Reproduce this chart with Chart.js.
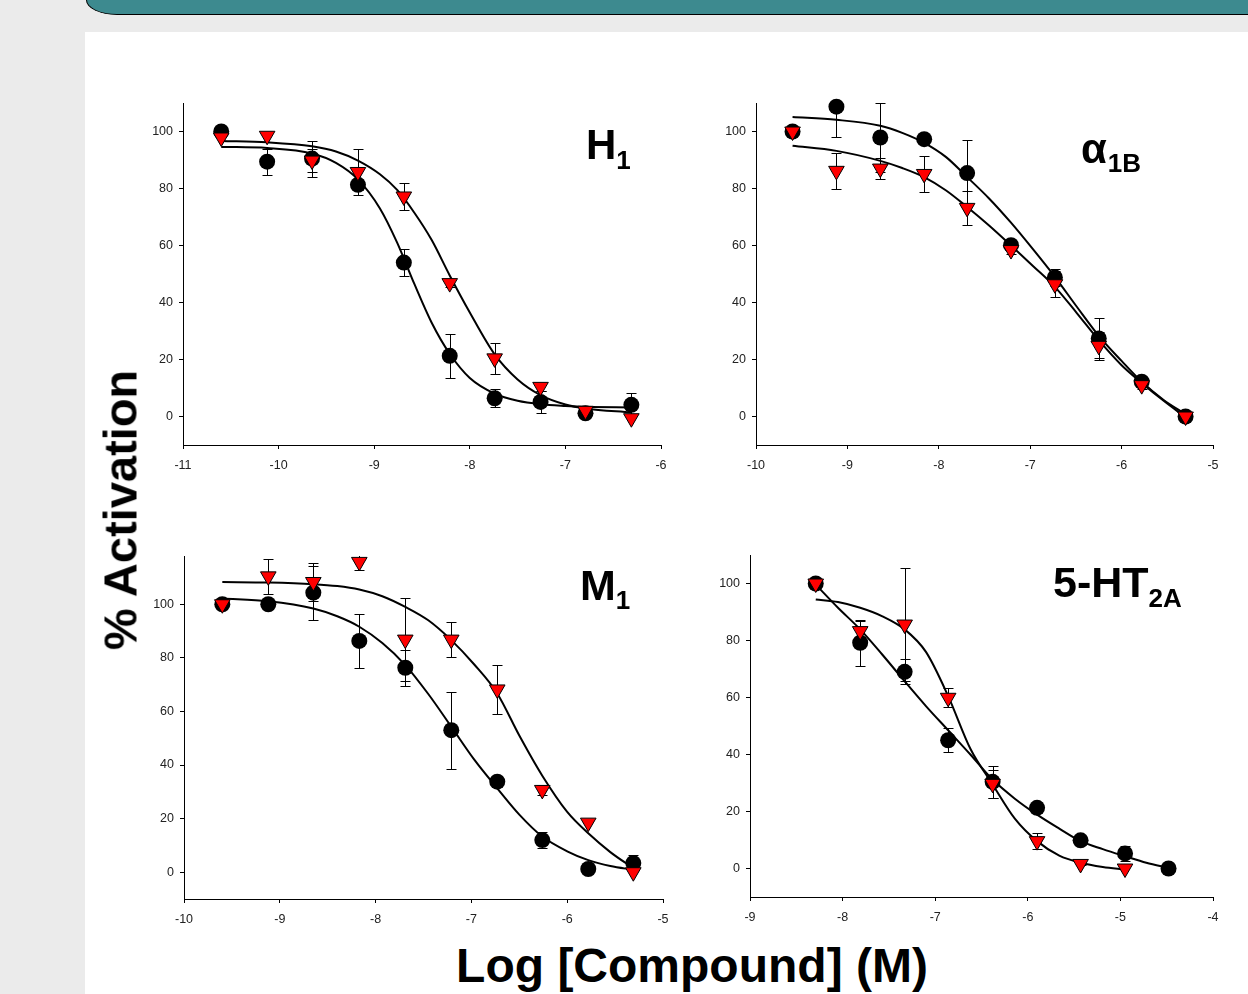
<!DOCTYPE html>
<html>
<head>
<meta charset="utf-8">
<script src="https://cdn.jsdelivr.net/npm/chart.js@4.4.0/dist/chart.umd.min.js"></script>
<style>
body { margin:0; width:1248px; height:994px; background:#ebebeb; position:relative; overflow:hidden; font-family:'Liberation Sans', Arial, sans-serif; }
#header { position:absolute; left:86px; top:-20px; width:1200px; height:34px; background:#3d8a8f; border-left:1.5px solid #000; border-bottom:1.5px solid #000; border-bottom-left-radius:31px 15px; }
#sheet { position:absolute; left:85px; top:32px; right:0; bottom:0; background:#fff; }
canvas { position:absolute; }
.t { position:absolute; font-weight:bold; line-height:1; color:#000; white-space:nowrap; }
.t span { position:relative; }
</style>
</head>
<body>
<div id="header"></div>
<div id="sheet"></div>
<canvas id="cH1"></canvas>
<canvas id="cA1B"></canvas>
<canvas id="cM1"></canvas>
<canvas id="cHT2A"></canvas>

<div class="t" style="left:586px;top:124.4px;font-size:42px">H<span style="font-size:26px;top:10px">1</span></div>
<div class="t" style="left:1081px;top:128.4px;font-size:42px">α<span style="font-size:26px;top:9px;margin-left:1px">1B</span></div>
<div class="t" style="left:580px;top:563.6px;font-size:43px">M<span style="font-size:26px;top:9px">1</span></div>
<div class="t" style="left:1053px;top:560.6px;font-size:43px">5-HT<span style="font-size:26px;top:10px">2A</span></div>

<div class="t" style="left:120px;top:510px;font-size:47px;transform:translate(-50%,-50%) rotate(-90deg)">% Activation</div>
<div class="t" style="left:692px;top:942.4px;font-size:48px;transform:translateX(-50%)">Log [Compound] (M)</div>

<script>
// ---- H1 ----
var h1Dose = [-10.60, -10.12, -9.65, -9.17, -8.69, -8.21, -7.74, -7.26, -6.79, -6.31];
var h1Black = [100, 89.4, 90.5, 81.3, 54.0, 21.3, 6.4, 5.1, 1.1, 4.1];
var h1BlackSem = [0, 4.6, 6.3, 2, 4.6, 7.8, 3.2, 3.7, 1, 4.1];
var h1Red = [97.9, 98.5, 89.8, 85.8, 77.2, 46.8, 20.4, 10.4, 2.0, -0.6];
var h1RedSem = [0, 0, 4, 8, 4.6, 1.5, 5.5, 1.5, 1, 0];
var h1FitDose = [-10.6, -10.12, -9.65, -9.4, -9.17, -8.94, -8.76, -8.58, -8.4, -8.21, -8.0, -7.74, -7.5, -7.26, -7.0, -6.79, -6.31];
var h1FitBlack = [94.6, 94.2, 92.3, 89.0, 83.2, 73.0, 61.0, 46.5, 33.0, 22.0, 13.5, 8.0, 5.5, 4.3, 3.7, 3.4, 3.2];
var h1FitRed = [96.7, 96.2, 94.8, 93.0, 89.8, 85.0, 79.5, 71.5, 62.0, 49.5, 36.5, 21.8, 13.0, 7.5, 4.2, 2.8, 1.4];
var h1XTicks = [-11, -10, -9, -8, -7, -6];

// ---- alpha1B ----
var a1bDose = [-9.60, -9.12, -8.64, -8.16, -7.69, -7.21, -6.73, -6.25, -5.78, -5.30];
var a1bBlack = [100, 108.7, 97.9, 97.3, 85.4, 60.1, 48.8, 27.4, 12.2, 0];
var a1bBlackSem = [0, 10.8, 12, 0, 11.6, 1.5, 3, 7, 1.5, 1];
var a1bRed = [100, 86.2, 87, 85.1, 73.2, 58.4, 46.4, 24.8, 11, 0];
var a1bRedSem = [0, 6.2, 3.8, 6.4, 6, 1.5, 4.6, 5, 1.5, 0];
var a1bFitDose = [-9.6, -9.12, -8.64, -8.4, -8.16, -7.92, -7.69, -7.45, -7.21, -6.97, -6.73, -6.49, -6.25, -6.0, -5.78, -5.54, -5.3];
var a1bFitBlack = [105.1, 104.1, 102.0, 99.5, 96.0, 91.0, 84.0, 76.5, 68.0, 58.7, 49.0, 38.5, 28.3, 19.5, 12.2, 5.8, 0.8];
var a1bFitRed = [95.0, 93.2, 89.7, 87.2, 84.0, 79.3, 73.5, 67.0, 60.0, 52.8, 45.5, 36.3, 26.8, 18.0, 11.8, 5.5, -0.3];
var a1bXTicks = [-10, -9, -8, -7, -6, -5];

// ---- M1 ----
var m1Dose = [-9.60, -9.12, -8.65, -8.17, -7.69, -7.21, -6.73, -6.26, -5.78, -5.31];
var m1Black = [100, 100, 104.3, 86.3, 76.3, 53, 33.8, 12, 1.2, 3.4];
var m1BlackSem = [0, 1, 10, 10, 6.7, 14.4, 2, 3, 1, 3];
var m1Red = [100, 110.4, 108.3, 115.8, 86.8, 86.8, 68.2, 30.7, 18.5, 0];
var m1RedSem = [0, 6.5, 7, 3, 15.5, 6.5, 9, 2, 0, 0];
var m1FitDose = [-9.6, -9.12, -8.65, -8.4, -8.17, -7.93, -7.69, -7.45, -7.21, -6.97, -6.73, -6.5, -6.26, -6.0, -5.78, -5.55, -5.31];
var m1FitBlack = [102.1, 101.1, 98.4, 95.5, 91.6, 85.5, 77.3, 66.5, 54.3, 42.0, 31.3, 21.5, 13.3, 7.8, 4.5, 2.3, 0.9];
var m1FitRed = [108.3, 108.1, 107.5, 106.8, 105.5, 103.0, 99.0, 94.0, 86.6, 77.5, 66.7, 51.0, 36.0, 22.5, 14.5, 7.5, 1.5];
var m1XTicks = [-10, -9, -8, -7, -6, -5];

// ---- 5-HT2A ----
var ht2aDose = [-8.29, -7.81, -7.33, -6.86, -6.38, -5.90, -5.43, -4.95, -4.48];
var ht2aBlack = [100, 79.2, 69, 45, 30.4, 21.3, 9.9, 5.3, 0];
var ht2aBlackSem = [1, 8, 4.4, 4.2, 5.5, 2, 1.5, 2.7, 1];
var ht2aRed = [100, 83.3, 85.6, 59.9, 29.7, 9.6, 1.6, 0];
var ht2aRedSem = [1.5, 3.7, 19.7, 3.3, 5, 2.7, 0.5, 0];
var ht2aFitDose = [-8.29, -8.05, -7.81, -7.57, -7.33, -7.1, -6.86, -6.62, -6.38, -6.14, -5.9, -5.66, -5.43, -5.19, -4.95, -4.72, -4.48];
var ht2aFitBlack = [99.6, 91.5, 83.9, 75.0, 65.7, 57.0, 48.5, 40.0, 31.2, 24.5, 18.9, 14.0, 9.6, 6.8, 4.3, 2.0, 0.2];
var ht2aFitRed = [94.4, 93.5, 91.5, 88.5, 83.9, 76.0, 60.5, 42.0, 29.5, 17.5, 9.6, 4.5, 2.0, 0.5, -0.4, null, null];
var ht2aXTicks = [-9, -8, -7, -6, -5, -4];

var yTicks = [0, 20, 40, 60, 80, 100];

// error bars, drawn under the markers and clipped to the plot area
var errorBars = {
    id: 'errorBars',
    beforeDatasetsDraw: function(chart) {
        var ctx = chart.ctx;
        var xs = chart.scales.x, ys = chart.scales.y;
        var area = chart.chartArea;
        ctx.save();
        ctx.beginPath();
        ctx.rect(area.left - 10, area.top, area.right - area.left + 20, area.bottom - area.top);
        ctx.clip();
        ctx.strokeStyle = '#000';
        ctx.lineWidth = 1;
        chart.data.datasets.forEach(function(ds) {
            if (!ds.sem) return;
            ds.data.forEach(function(p, i) {
                var e = ds.sem[i];
                if (!e) return;
                var x = Math.round(xs.getPixelForValue(p.x)) + 0.5;
                var top = Math.round(ys.getPixelForValue(p.y + e)) + 0.5;
                var bot = Math.round(ys.getPixelForValue(p.y - e)) + 0.5;
                ctx.beginPath();
                ctx.moveTo(x, top); ctx.lineTo(x, bot);
                ctx.moveTo(x - 5, top); ctx.lineTo(x + 5, top);
                ctx.moveTo(x - 5, bot); ctx.lineTo(x + 5, bot);
                ctx.stroke();
            });
        });
        ctx.restore();
    }
};

function pts(xs, ys) {
    return xs.map(function(x, i) { return {x: x, y: ys[i]}; });
}

var tickFont = {family: "'Liberation Sans', Arial, sans-serif", size: 12.5};

function panel(id, box, xTicks, yMax, dose, black, blackSem, red, redSem, fitDose, fitBlack, fitRed) {
    var padTop = 15, padRight = 20, yW = 50, xH = 32;
    var canvas = document.getElementById(id);
    canvas.width = box.right - box.left + yW + padRight;
    canvas.height = box.bottom - box.top + padTop + xH;
    canvas.style.left = (box.left - yW) + 'px';
    canvas.style.top = (box.top - padTop) + 'px';

    var curve = {
        showLine: true, pointRadius: 0, pointHitRadius: 0,
        borderColor: '#000', borderWidth: 2,
        cubicInterpolationMode: 'monotone'
    };

    new Chart(canvas, {
        type: 'scatter',
        data: {
            datasets: [
                {
                    data: pts(dose, red), sem: redSem, order: 0, clip: false,
                    pointStyle: 'triangle', pointRotation: 180, pointRadius: 9,
                    pointBackgroundColor: '#ff0000', pointBorderColor: '#000', pointBorderWidth: 1
                },
                {
                    data: pts(dose, black), sem: blackSem, order: 1, clip: false,
                    pointStyle: 'circle', pointRadius: 8,
                    pointBackgroundColor: '#000', pointBorderColor: '#000', pointBorderWidth: 0
                },
                Object.assign({data: pts(fitDose, fitBlack), order: 2}, curve),
                Object.assign({data: pts(fitDose, fitRed), order: 3}, curve)
            ]
        },
        options: {
            responsive: false,
            animation: false,
            devicePixelRatio: 1,
            events: [],
            layout: {padding: {left: 0, top: padTop, right: padRight, bottom: 0}},
            plugins: {legend: {display: false}, tooltip: {enabled: false}},
            scales: {
                x: {
                    type: 'linear',
                    min: xTicks[0], max: xTicks[xTicks.length - 1],
                    afterBuildTicks: function(s) { s.ticks = xTicks.map(function(v) { return {value: v}; }); },
                    afterFit: function(s) { s.height = xH; },
                    grid: {drawOnChartArea: false, drawTicks: true, tickLength: 4, color: '#000'},
                    border: {color: '#000', width: 1},
                    ticks: {color: '#222', font: tickFont, padding: 9, maxRotation: 0, autoSkip: false,
                        callback: function(v) { return String(v); }}
                },
                y: {
                    type: 'linear',
                    min: -10, max: yMax,
                    afterBuildTicks: function(s) { s.ticks = yTicks.map(function(v) { return {value: v}; }); },
                    afterFit: function(s) { s.width = yW; },
                    grid: {drawOnChartArea: false, drawTicks: true, tickLength: 4, color: '#000'},
                    border: {color: '#000', width: 1},
                    ticks: {color: '#222', font: tickFont, padding: 6, autoSkip: false,
                        callback: function(v) { return String(v); }}
                }
            }
        },
        plugins: [errorBars]
    });
}

panel('cH1', {left: 183, right: 661, top: 103, bottom: 445}, h1XTicks, 110,
    h1Dose, h1Black, h1BlackSem, h1Red, h1RedSem, h1FitDose, h1FitBlack, h1FitRed);
panel('cA1B', {left: 756, right: 1213, top: 103, bottom: 445}, a1bXTicks, 110,
    a1bDose, a1bBlack, a1bBlackSem, a1bRed, a1bRedSem, a1bFitDose, a1bFitBlack, a1bFitRed);
panel('cM1', {left: 184, right: 663, top: 556, bottom: 899}, m1XTicks, 118,
    m1Dose, m1Black, m1BlackSem, m1Red, m1RedSem, m1FitDose, m1FitBlack, m1FitRed);
panel('cHT2A', {left: 750, right: 1213, top: 555, bottom: 897}, ht2aXTicks, 110,
    ht2aDose, ht2aBlack, ht2aBlackSem, ht2aRed, ht2aRedSem, ht2aFitDose, ht2aFitBlack, ht2aFitRed);
</script>
</body>
</html>
